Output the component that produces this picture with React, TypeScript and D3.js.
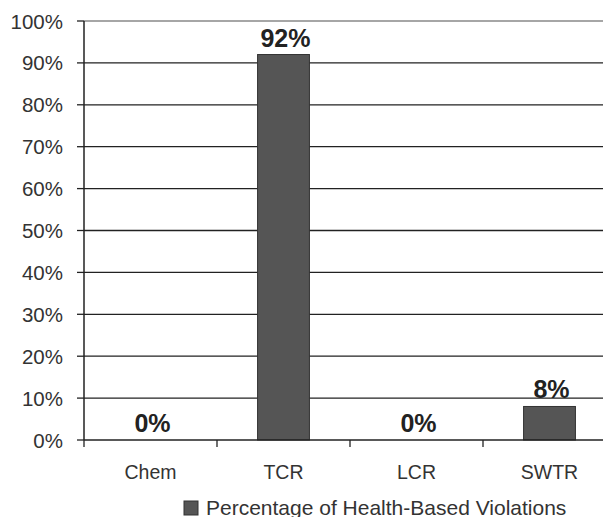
import React from "react";
import * as d3 from "d3";

const categories = ["Chem", "TCR", "LCR", "SWTR"];
const values = [0, 92, 0, 8];
const yTicks = [0, 10, 20, 30, 40, 50, 60, 70, 80, 90, 100];
const seriesName = "Percentage of Health-Based Violations";

export default function App() {
  const W = 603, H = 517;
  const x0 = 84, x1 = 616, yTop = 21, yBot = 440;
  const x = d3.scaleBand<string>().domain(categories).range([x0, x1]).paddingInner(0).paddingOuter(0);
  const y = d3.scaleLinear().domain([0, 100]).range([yBot, yTop]);
  const bw = x.bandwidth() * 0.39;
  const font = "'Liberation Sans', Arial, sans-serif";
  return (
    <svg width={W} height={H} style={{ position: "absolute", left: 0, top: 0, background: "#fff" }} fontFamily={font}>
      {yTicks.map((t) => (
        <g key={t}>
          {t > 0 && (
            <line x1={x0} x2={W} y1={y(t)} y2={y(t)} stroke={t === 100 ? "#888" : "#222"} strokeWidth={1.3} />
          )}
          <line x1={77} x2={x0} y1={y(t)} y2={y(t)} stroke="#222" strokeWidth={1.3} />
          <text x={63} y={y(t) + 7.5} textAnchor="end" fontSize={20.5} fill="#333">{t}%</text>
        </g>
      ))}
      {categories.map((c, i) => {
        const cx = x(c)! + x.bandwidth() / 2;
        const v = values[i];
        return (
          <g key={c}>
            {v > 0 && (
              <rect x={cx - bw / 2} y={y(v)} width={bw} height={yBot - y(v)} fill="#555" stroke="#333" strokeWidth={1} />
            )}
            <text x={cx + 2} y={y(v) - 8} textAnchor="middle" fontSize={25} fontWeight="bold" fill="#222">{v}%</text>
            <text x={cx} y={479} textAnchor="middle" fontSize={19.5} fill="#333">{c}</text>
          </g>
        );
      })}
      {categories.map((c) => (
        <line key={c} x1={x(c)!} x2={x(c)!} y1={yBot} y2={yBot + 7} stroke="#222" strokeWidth={1.3} />
      ))}
      <line x1={x0} x2={x0} y1={yTop} y2={yBot} stroke="#222" strokeWidth={1.5} />
      <line x1={x0} x2={W} y1={yBot} y2={yBot} stroke="#222" strokeWidth={1.5} />
      <rect x={184} y={501} width={14} height={14} fill="#555" stroke="#333" strokeWidth={1} />
      <text x={206} y={515} fontSize={21} fill="#333">{seriesName}</text>
    </svg>
  );
}
